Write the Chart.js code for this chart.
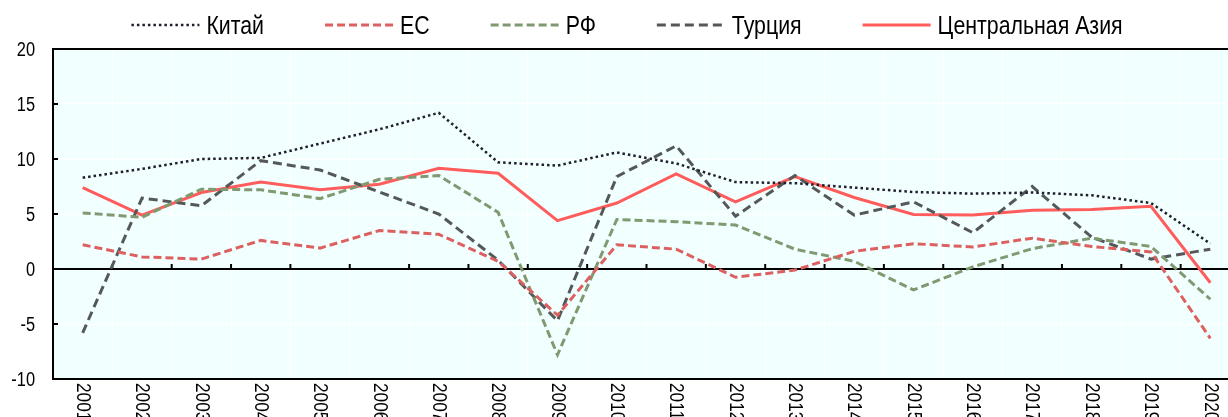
<!DOCTYPE html>
<html><head><meta charset="utf-8">
<script src="https://cdn.jsdelivr.net/npm/chart.js@4.4.1/dist/chart.umd.min.js"></script>
<style>html,body{margin:0;padding:0;overflow:hidden;background:#fff}</style></head>
<body><canvas id="c" width="1245" height="417" style="display:block"></canvas>
<script>
const years = ['2001','2002','2003','2004','2005','2006','2007','2008','2009','2010','2011','2012','2013','2014','2015','2016','2017','2018','2019','2020'];
const china  = [8.3, 9.1, 10.0, 10.1, 11.4, 12.7, 14.2, 9.7, 9.4, 10.6, 9.6, 7.9, 7.8, 7.4, 7.0, 6.85, 6.95, 6.7, 6.0, 2.3];
const eu     = [2.2, 1.1, 0.9, 2.6, 1.9, 3.5, 3.15, 0.7, -4.2, 2.2, 1.8, -0.75, -0.1, 1.6, 2.3, 2.0, 2.8, 2.05, 1.55, -6.3];
const russia = [5.1, 4.7, 7.25, 7.2, 6.4, 8.15, 8.5, 5.15, -7.8, 4.5, 4.3, 4.0, 1.8, 0.7, -1.9, 0.2, 1.85, 2.8, 2.05, -2.75];
const turkey = [-5.8, 6.45, 5.75, 9.85, 9.0, 7.0, 5.0, 0.8, -4.7, 8.4, 11.2, 4.8, 8.5, 4.9, 6.1, 3.3, 7.5, 2.9, 0.9, 1.8];
const casia  = [7.4, 4.9, 6.95, 7.9, 7.2, 7.7, 9.15, 8.7, 4.4, 6.0, 8.65, 6.1, 8.4, 6.5, 4.95, 4.9, 5.35, 5.4, 5.7, -1.25];
const yTicks = [-10, -5, 0, 5, 10, 15, 20];
const seriesNames = ['Китай', 'ЕС', 'РФ', 'Турция', 'Центральная Азия'];

const FONT = '"Liberation Sans", Arial, sans-serif';
const NARROW = 0.82;

const styles = [
  {color: '#1e1e2c', dash: [2.5, 3], width: 2.5},
  {color: '#dd6060', dash: [8, 4], width: 3},
  {color: '#7f9a70', dash: [8, 4], width: 3},
  {color: '#555858', dash: [9, 5], width: 3},
  {color: '#ff5c5c', dash: [], width: 3}
];
const values = [china, eu, russia, turkey, casia];

const datasets = values.map((v, i) => ({
  label: seriesNames[i],
  data: v,
  borderColor: styles[i].color,
  backgroundColor: styles[i].color,
  borderDash: styles[i].dash,
  borderWidth: styles[i].width,
  pointRadius: 0,
  tension: 0,
  fill: false
}));

function narrowText(ctx, text, x, y, align, baseline, rot) {
  ctx.save();
  ctx.translate(x, y);
  if (rot) ctx.rotate(rot);
  ctx.scale(NARROW, 1);
  ctx.textAlign = align;
  ctx.textBaseline = baseline;
  ctx.fillText(text, 0, 0);
  ctx.restore();
}

const bgPlugin = {
  id: 'bg',
  beforeDraw(chart) {
    const {ctx, chartArea: a} = chart;
    ctx.save();
    ctx.fillStyle = '#f2ffff';
    ctx.fillRect(a.left, a.top, a.right - a.left, a.bottom - a.top);
    ctx.restore();
  }
};

const axesPlugin = {
  id: 'axes',
  beforeDatasetsDraw(chart) {
    const {ctx, chartArea: a, scales} = chart;
    const xs = scales.x, ys = scales.y;
    ctx.save();
    ctx.strokeStyle = '#000';
    ctx.lineWidth = 2;
    const line = (x1, y1, x2, y2) => { ctx.beginPath(); ctx.moveTo(x1, y1); ctx.lineTo(x2, y2); ctx.stroke(); };
    line(a.left, a.top, a.right, a.top);
    line(a.left, a.bottom, a.right, a.bottom);
    line(a.left, a.top - 1, a.left, a.bottom + 1);
    const y0 = ys.getPixelForValue(0);
    line(a.left, y0, a.right, y0);
    for (let i = 1; i < years.length; i++) {
      const x = (xs.getPixelForValue(i - 1) + xs.getPixelForValue(i)) / 2;
      line(x, y0, x, y0 - 5);
    }
    yTicks.forEach(v => {
      const y = ys.getPixelForValue(v);
      line(a.left, y, a.left + 5, y);
    });
    ctx.restore();
  }
};

const textPlugin = {
  id: 'texts',
  afterDraw(chart) {
    const {ctx, chartArea: a, scales} = chart;
    ctx.save();
    ctx.fillStyle = '#000';
    ctx.font = '21px ' + FONT;
    years.forEach((lab, i) => {
      const x = scales.x.getPixelForValue(i);
      narrowText(ctx, lab, x, a.bottom + 4, 'left', 'middle', Math.PI / 2);
    });
    ctx.font = '20px ' + FONT;
    yTicks.forEach(v => {
      const y = scales.y.getPixelForValue(v);
      narrowText(ctx, String(v), 35, y + 1, 'right', 'middle', 0);
    });
    ctx.restore();
  }
};

const legendPlugin = {
  id: 'customLegend',
  afterDraw(chart) {
    const {ctx} = chart;
    ctx.save();
    ctx.font = '26px ' + FONT;
    const lineLen = 68, textGap = 7, itemGap = 61;
    const items = chart.data.datasets.map(d => ({d, w: ctx.measureText(d.label).width * NARROW}));
    const total = items.reduce((s, it) => s + lineLen + textGap + it.w, 0) + itemGap * (items.length - 1);
    let x = 627 - total / 2;
    const ly = 25, ty = 34;
    items.forEach(it => {
      ctx.strokeStyle = it.d.borderColor;
      ctx.lineWidth = it.d.borderWidth;
      ctx.setLineDash(it.d.borderDash);
      ctx.beginPath(); ctx.moveTo(x, ly); ctx.lineTo(x + lineLen, ly); ctx.stroke();
      ctx.setLineDash([]);
      ctx.fillStyle = '#000';
      narrowText(ctx, it.d.label, x + lineLen + textGap, ty, 'left', 'alphabetic', 0);
      x += lineLen + textGap + it.w + itemGap;
    });
    ctx.restore();
  }
};

new Chart(document.getElementById('c'), {
  type: 'line',
  data: {labels: years, datasets},
  plugins: [bgPlugin, axesPlugin, textPlugin, legendPlugin],
  options: {
    responsive: false,
    animation: false,
    layout: {padding: {top: 49, left: 0, right: 5, bottom: 0}},
    plugins: {legend: {display: false}, tooltip: {enabled: false}},
    scales: {
      x: {
        offset: true,
        grid: {color: '#ffffff', lineWidth: 1, offset: true, drawTicks: false},
        border: {display: false},
        ticks: {display: false},
        afterFit: s => { s.height = 38; }
      },
      y: {
        min: -10, max: 20,
        afterBuildTicks: s => { s.ticks = yTicks.map(v => ({value: v})); },
        ticks: {display: false},
        grid: {color: '#ffffff', lineWidth: 1, drawTicks: false},
        border: {display: false},
        afterFit: s => { s.width = 53; }
      }
    }
  }
});
</script></body></html>
